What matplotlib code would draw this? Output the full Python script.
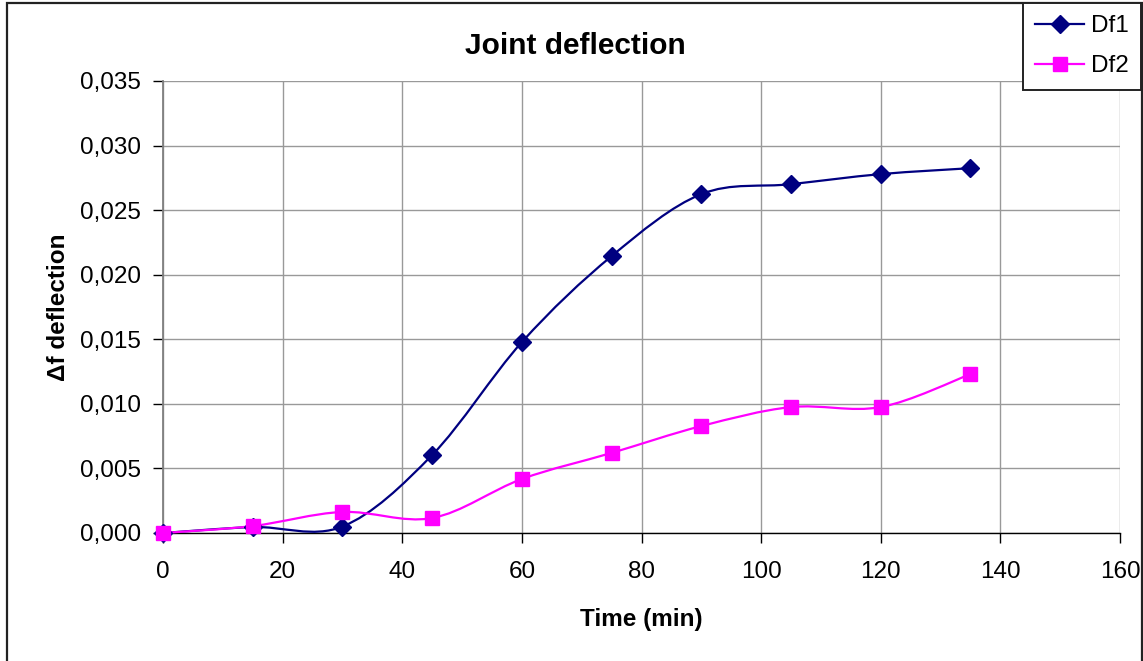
import matplotlib
matplotlib.use("Agg")
import matplotlib.pyplot as plt
from matplotlib.path import Path
from matplotlib.patches import PathPatch, Rectangle
from matplotlib.lines import Line2D
from matplotlib.ticker import FuncFormatter, MultipleLocator
import numpy as np

plt.rcParams['font.family'] = ['Liberation Sans', 'DejaVu Sans']

time_min = [0, 15, 30, 45, 60, 75, 90, 105, 120, 135]
df1 = [0.0, 0.00046, 0.0005, 0.00604, 0.01478, 0.02144, 0.02624, 0.02701, 0.02779, 0.02825]
df2 = [0.0, 0.00054, 0.00163, 0.00116, 0.00418, 0.0062, 0.00828, 0.00975, 0.00975, 0.0123]
series_names = ["Df1", "Df2"]
series_colors = ["#000080", "#FF00FF"]
series_markers = ["D", "s"]


def smooth_path(xs, ys):
    """Excel-like smoothed line as cubic Bezier segments through the data points."""
    pts = np.column_stack([xs, ys]).astype(float)
    n = len(pts)
    verts = [pts[0]]
    codes = [Path.MOVETO]
    for i in range(n - 1):
        p0 = pts[i - 1] if i > 0 else pts[i]
        p1 = pts[i]
        p2 = pts[i + 1]
        p3 = pts[i + 2] if i + 2 < n else pts[i + 1]
        c1 = p1 + (p2 - p0) / 6.0
        c2 = p2 - (p3 - p1) / 6.0
        verts += [c1, c2, p2]
        codes += [Path.CURVE4] * 3
    return Path(verts, codes)


fig = plt.figure(figsize=(11.43, 6.61), dpi=100)
ax = fig.add_axes([163 / 1143, 1 - 533 / 661, (1120 - 163) / 1143, (533 - 81) / 661])

ax.set_xlim(0, 160)
ax.set_ylim(0, 0.035)
ax.xaxis.set_major_locator(MultipleLocator(20))
ax.yaxis.set_major_locator(MultipleLocator(0.005))
ax.yaxis.set_major_formatter(FuncFormatter(lambda v, p: f"{v:.3f}".replace('.', ',')))
ax.grid(True, color="#999999", linewidth=1.0)
ax.set_axisbelow(True)
for s in ["top", "right"]:
    ax.spines[s].set_visible(False)
ax.spines["left"].set_color("#808080")
ax.spines["left"].set_linewidth(1.3)
ax.spines["bottom"].set_color("#000000")
ax.spines["bottom"].set_linewidth(1.0)
ax.tick_params(axis="both", direction="out", length=7, labelsize=17.5, width=1.0)
ax.tick_params(axis="x", pad=13)
ax.tick_params(axis="y", pad=9)

for ys, name, col, mk in zip([df1, df2], series_names, series_colors, series_markers):
    ax.add_patch(PathPatch(smooth_path(time_min, ys), facecolor="none", edgecolor=col,
                           linewidth=1.6, zorder=3, clip_on=False))
    ax.plot(time_min, ys, linestyle="none", marker=mk, color=col,
            markersize=9 if mk == "D" else 10, zorder=4, clip_on=False, label=name)

fig.text(575 / 1143, 1 - 46 / 661, "Joint deflection", fontsize=21.5, fontweight="bold",
         ha="center", va="center")
ax.set_xlabel("Time (min)", fontsize=17.5, fontweight="bold", labelpad=18)
ax.set_ylabel("\u0394f deflection", fontsize=17.5, fontweight="bold", labelpad=7)

# outer chart border
fig.patches.append(Rectangle((7 / 1143, -0.05), (1142 - 7) / 1143, 1 - 3 / 661 + 0.05,
                             transform=fig.transFigure, fill=False, edgecolor="#222222",
                             linewidth=1.6))

handles = [Line2D([0], [0], color=c, marker=m, markersize=9 if m == "D" else 10, linewidth=1.6)
           for c, m in zip(series_colors, series_markers)]
leg = fig.legend(handles, series_names, loc="upper right",
                 bbox_to_anchor=(1141 / 1143, 1 - 3 / 661), fontsize=17.5,
                 frameon=True, fancybox=False, framealpha=1, edgecolor="#222222",
                 handlelength=2.0, borderpad=0.5, labelspacing=0.75, handletextpad=0.3,
                 borderaxespad=0)
leg.get_frame().set_linewidth(1.4)

fig.savefig("out.png", dpi=100)
